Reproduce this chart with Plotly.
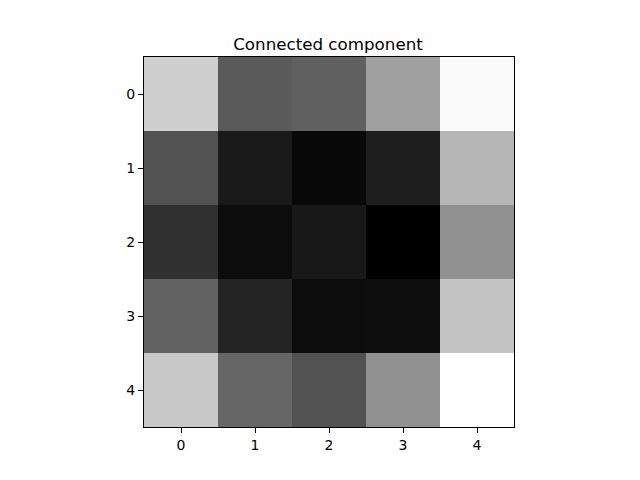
import plotly.graph_objects as go

# grey levels (0 = black, 255 = white)
rows = [0, 1, 2, 3, 4]
cols = [0, 1, 2, 3, 4]
values = [
    [207, 90, 96, 160, 250],
    [82, 26, 8, 30, 182],
    [48, 12, 24, 0, 144],
    [98, 36, 12, 14, 196],
    [200, 102, 82, 144, 255],
]
tick_labels = ["0", "1", "2", "3", "4"]

fig = go.Figure()
fig.add_trace(go.Heatmap(
    z=values,
    x=cols,
    y=rows,
    colorscale=[[0, "black"], [1, "white"]],
    zmin=0,
    zmax=255,
    showscale=False,
))

axis_style = dict(
    showgrid=False,
    zeroline=False,
    showline=True,
    linecolor="black",
    linewidth=1,
    mirror=True,
    ticks="outside",
    ticklen=5,
    tickcolor="black",
    tickvals=cols,
    ticktext=tick_labels,
    tickfont=dict(family="DejaVu Sans", size=14, color="black"),
)

# page puts the figure 8px in from the corner, so margins are shifted to match
fig.update_layout(
    width=640,
    height=480,
    margin=dict(l=136, r=134, t=49, b=61),
    paper_bgcolor="white",
    plot_bgcolor="white",
    title=dict(
        text="Connected component",
        x=0.5,
        xanchor="center",
        y=1 - 36 / 480,
        yanchor="middle",
        font=dict(family="DejaVu Sans", size=16.7, color="black"),
    ),
    xaxis=dict(range=[-0.5, 4.5], **axis_style),
    yaxis=dict(range=[4.5, -0.5], **axis_style),
)

fig.write_html("out.html")
